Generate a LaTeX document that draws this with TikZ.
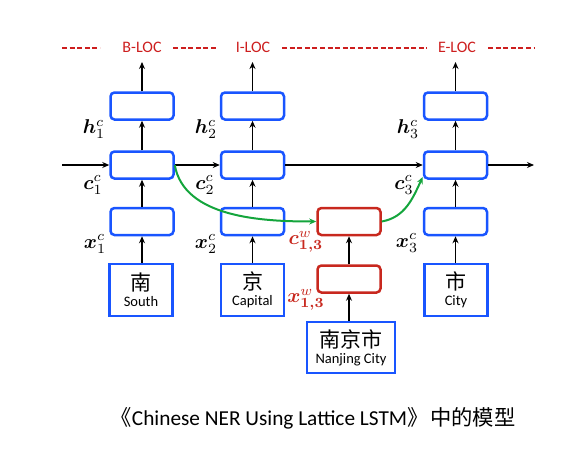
\documentclass[tikz,border=0pt]{standalone}
\usepackage{amsmath,bm}
\usepackage{graphicx}
\usepackage{fontspec}
\setmainfont{Carlito}
\newfontfamily\cjk{Noto Sans CJK SC}
\usetikzlibrary{arrows.meta}
\definecolor{bblue}{RGB}{25,85,255}
\definecolor{rred}{RGB}{200,40,30}
\definecolor{ggreen}{RGB}{20,165,60}
\definecolor{lred}{RGB}{205,30,30}
\newcommand{\ml}[1]{\scalebox{2.0}{$#1$}}
\begin{document}
\begin{tikzpicture}[x=1pt,y=-1pt,
  cell/.style={draw=bblue,line width=2.5pt,rounded corners=4pt,minimum width=63pt,minimum height=27pt,inner sep=0pt},
  wcell/.style={cell,draw=rred},
  charbox/.style={draw=bblue,line width=2.5pt,minimum width=63pt,minimum height=52pt,inner sep=0pt,align=center},
  arr/.style={draw=black,line width=1.8pt,-{Stealth[length=7pt,width=6pt]}},
  garr/.style={draw=ggreen,line width=2pt,-{Stealth[length=7pt,width=6pt]}},
  tag/.style={text=lred,font=\fontsize{16}{18}\selectfont},
  dline/.style={draw=lred,line width=2.8pt,dash pattern=on 5pt off 2.6pt},
  lab/.style={inner sep=1pt},
  wlab/.style={lab,text=rred}]
\useasboundingbox (0,0) rectangle (587,461);
% top labels
\node[tag] (t1) at (142,47) {B-LOC};
\node[tag] (t2) at (253,47) {I-LOC};
\node[tag] (t3) at (457,47) {E-LOC};
\coordinate (d1a) at (62,48); \coordinate (d1b) at (100,48);
\coordinate (d2a) at (173,48); \coordinate (d2b) at (218,48);
\coordinate (d3a) at (282,48); \coordinate (d3b) at (427,48);
\coordinate (d4a) at (488,48); \coordinate (d4b) at (535,48);
\draw[dline] (d1a) -- (d1b);
\draw[dline] (d2a) -- (d2b);
\draw[dline] (d3a) -- (d3b);
\draw[dline] (d4a) -- (d4b);
% columns
\node[cell] (h1) at (142,106) {};
\node[cell] (h2) at (252.5,106) {};
\node[cell] (h3) at (455.5,106) {};
\node[cell] (c1) at (142,165) {};
\node[cell] (c2) at (252.5,165) {};
\node[cell] (c3) at (455.5,165) {};
\node[cell] (x1) at (142,221.5) {};
\node[cell] (x2) at (252.5,221.5) {};
\node[cell] (x3) at (455.5,221.5) {};
\node[charbox] (s1) at (141,290) {{\cjk\fontsize{21}{24}\selectfont 南}\\[4pt]{\fontsize{14.5}{16}\selectfont South}};
\node[charbox] (s2) at (252.5,290) {{\cjk\fontsize{21}{24}\selectfont 京}\\[4pt]{\fontsize{14.5}{16}\selectfont Capital}};
\node[charbox] (s3) at (456,290) {{\cjk\fontsize{21}{24}\selectfont 市}\\[4pt]{\fontsize{14.5}{16}\selectfont City}};
% word path
\node[wcell] (wc) at (349,221.5) {};
\node[wcell] (wx) at (349,279) {};
\node[charbox,minimum width=88pt,minimum height=51pt] (sw) at (351,347.5) {{\cjk\fontsize{21}{24}\selectfont 南京市}\\[4pt]{\fontsize{14.5}{16}\selectfont Nanjing City}};
% top arrows
\coordinate (o1) at (142,62);
\coordinate (o2) at (252.5,62);
\coordinate (o3) at (455.5,62);
\draw[arr] (h1.north) -- (o1);
\draw[arr] (h2.north) -- (o2);
\draw[arr] (h3.north) -- (o3);
\draw[arr] (c1.north) -- (h1.south);
\draw[arr] (c2.north) -- (h2.south);
\draw[arr] (c3.north) -- (h3.south);
\draw[arr] (x1.north) -- (c1.south);
\draw[arr] (x2.north) -- (c2.south);
\draw[arr] (x3.north) -- (c3.south);
\draw[arr] (s1.north -| x1.south) -- (x1.south);
\draw[arr] (s2.north) -- (x2.south);
\draw[arr] (s3.north -| x3.south) -- (x3.south);
\draw[arr] (sw.north -| wx.south) -- (wx.south);
\draw[arr] (wx.north) -- (wc.south);
% horizontal chain
\coordinate (in) at (62,165);
\coordinate (out) at (534,165);
\draw[arr] (in) -- (c1.west);
\draw[arr] (c1.east) -- (c2.west);
\draw[arr] (c2.east) -- (c3.west);
\draw[arr] (c3.east) -- (out);
% green lattice path
\draw[garr] (c1.east) to[out=-80,in=180,looseness=0.9] (wc.west);
\draw[garr] (wc.east) to[out=10,in=-115] (c3.200);
% math labels
\node[lab] (lh1) at (94,129) {\ml{\bm{h}^{c}_{1}}};
\node[lab] (lh2) at (206,129) {\ml{\bm{h}^{c}_{2}}};
\node[lab] (lh3) at (408,129) {\ml{\bm{h}^{c}_{3}}};
\node[lab] (lc1) at (93,185) {\ml{\bm{c}^{c}_{1}}};
\node[lab] (lc2) at (205,185) {\ml{\bm{c}^{c}_{2}}};
\node[lab] (lc3) at (404,185) {\ml{\bm{c}^{c}_{3}}};
\node[lab] (lx1) at (95,244) {\ml{\bm{x}^{c}_{1}}};
\node[lab] (lx2) at (206,244) {\ml{\bm{x}^{c}_{2}}};
\node[lab] (lx3) at (407,243) {\ml{\bm{x}^{c}_{3}}};
\node[wlab] (lwc) at (306,242) {\ml{\bm{c}^{w}_{\bm{1,3}}}};
\node[wlab] (lwx) at (306,300) {\ml{\bm{x}^{w}_{\bm{1,3}}}};
% caption
\node[font=\fontsize{21.3}{24}\selectfont] (cap) at (313,418) {{\cjk 《}Chinese NER Using Lattice LSTM{\cjk 》\hspace{-3pt} 中的模型}};
\end{tikzpicture}
\end{document}
